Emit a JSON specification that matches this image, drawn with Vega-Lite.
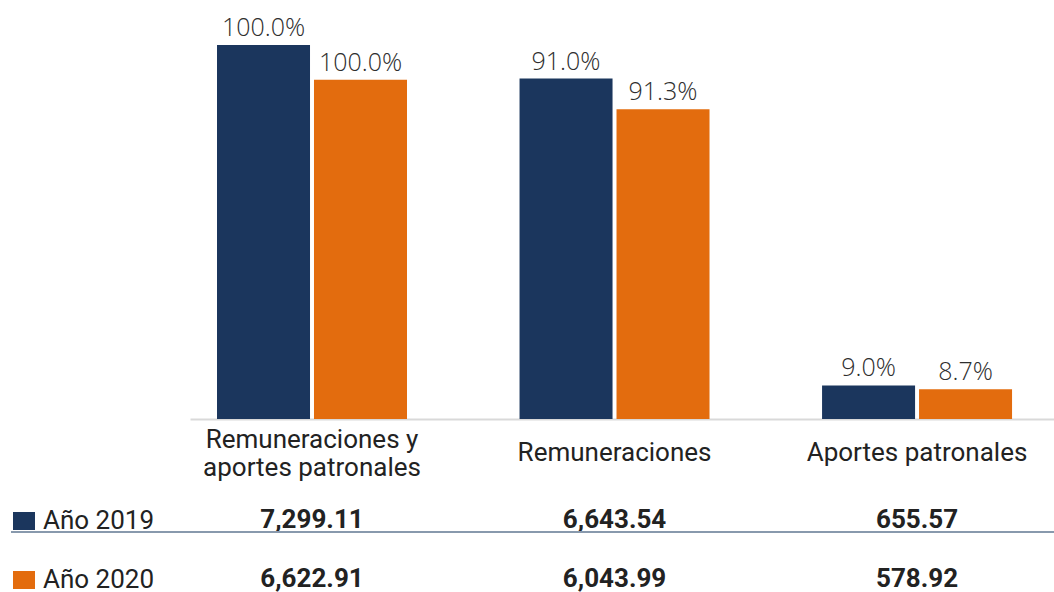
{
  "$schema": "https://vega.github.io/schema/vega-lite/v6.json",
  "width": 1054,
  "height": 592,
  "padding": 0,
  "autosize": {"type": "none"},
  "background": "#ffffff",
  "config": {"view": {"stroke": null}},
  "data": {"values": [
    {"cat": "Remuneraciones y aportes patronales", "year": "Año 2019", "value": 7299.11, "pct": 1.0},
    {"cat": "Remuneraciones y aportes patronales", "year": "Año 2020", "value": 6622.91, "pct": 1.0},
    {"cat": "Remuneraciones", "year": "Año 2019", "value": 6643.54, "pct": 0.910},
    {"cat": "Remuneraciones", "year": "Año 2020", "value": 6043.99, "pct": 0.913},
    {"cat": "Aportes patronales", "year": "Año 2019", "value": 655.57, "pct": 0.090},
    {"cat": "Aportes patronales", "year": "Año 2020", "value": 578.92, "pct": 0.087}
  ]},
  "layer": [
    {
      "encoding": {
        "x": {
          "field": "cat", "type": "nominal",
          "sort": ["Remuneraciones y aportes patronales", "Remuneraciones", "Aportes patronales"],
          "scale": {"paddingInner": 0.372, "paddingOuter": 0.428, "align": 0.838},
          "axis": {
            "orient": "bottom", "offset": -173, "title": null,
            "ticks": false, "tickSize": 0, "grid": false,
            "labelPadding": 33,
            "labelBaseline": {"condition": {"test": "datum.value == 'Remuneraciones y aportes patronales'", "value": "bottom"}, "value": "middle"},
            "labelAngle": 0,
            "labelFont": "Roboto", "labelFontSize": 26, "labelColor": "#222222",
            "labelLineHeight": 28, "labelLimit": 400,
            "labelExpr": "datum.value == 'Remuneraciones y aportes patronales' ? ['Remuneraciones y', 'aportes patronales'] : datum.value",
            "domain": true, "domainColor": "#d9d9d9", "domainWidth": 2, "domainDash": [0, 190, 864]
          }
        },
        "xOffset": {"field": "year", "type": "nominal", "scale": {"paddingInner": 0.041, "paddingOuter": 0}},
        "y": {"field": "value", "type": "quantitative", "scale": {"domain": [-3376, 8177], "nice": false}, "axis": null}
      },
      "layer": [
        {
          "mark": {"type": "bar"},
          "encoding": {
            "y2": {"datum": 0},
            "color": {
              "field": "year", "type": "nominal",
              "scale": {"domain": ["Año 2019", "Año 2020"], "range": ["#1b365d", "#e36c0e"]},
              "legend": {
                "orient": "none", "legendX": 11, "legendY": 508, "direction": "vertical",
                "title": null, "padding": 0,
                "symbolType": "M-1,-0.818L1,-0.818L1,0.818L-1,0.818Z",
                "symbolSize": 484, "symbolStrokeWidth": 0, "symbolOpacity": 1,
                "labelFont": "Roboto", "labelFontSize": 26, "labelColor": "#222222",
                "labelOffset": 6, "rowPadding": 33
              }
            }
          }
        },
        {
          "mark": {"type": "text", "font": "Open Sans", "fontWeight": 300, "fontSize": 25, "color": "#2e2e2e", "baseline": "alphabetic", "dy": -9},
          "encoding": {
            "text": {"field": "pct", "type": "quantitative", "format": ".1%"}
          }
        }
      ]
    },
    {
      "layer": [
        {
          "mark": {"type": "text", "font": "Roboto", "fontWeight": "bold", "fontSize": 26, "color": "#222222", "baseline": "middle"},
          "encoding": {
            "x": {
              "field": "cat", "type": "nominal",
              "sort": ["Remuneraciones y aportes patronales", "Remuneraciones", "Aportes patronales"],
              "scale": {"paddingInner": 0.372, "paddingOuter": 0.428, "align": 0.838},
              "axis": {
                "orient": "bottom", "offset": -173, "title": null,
                "ticks": false, "tickSize": 0, "grid": false,
                "labelPadding": 33,
                "labelBaseline": {"condition": {"test": "datum.value == 'Remuneraciones y aportes patronales'", "value": "bottom"}, "value": "middle"},
                "labelAngle": 0,
                "labelFont": "Roboto", "labelFontSize": 26, "labelColor": "#222222",
                "labelLineHeight": 28, "labelLimit": 400,
                "labelExpr": "datum.value == 'Remuneraciones y aportes patronales' ? ['Remuneraciones y', 'aportes patronales'] : datum.value",
                "domain": true, "domainColor": "#d9d9d9", "domainWidth": 2, "domainDash": [0, 190, 864]
              }
            },
            "y": {"field": "year", "type": "nominal", "scale": {"type": "point", "domain": ["Año 2019", "Año 2020"], "range": [520, 579], "padding": 0}, "axis": null},
            "text": {"field": "value", "type": "quantitative", "format": ",.2f"}
          }
        },
        {
          "data": {"values": [{"year": "Año 2019"}]},
          "mark": {"type": "rule", "color": "#8899ad", "strokeWidth": 2, "strokeDash": [1043, 11], "yOffset": 12},
          "encoding": {
            "y": {"field": "year", "type": "nominal", "axis": null}
          }
        }
      ]
    }
  ],
  "resolve": {"scale": {"y": "independent"}}
}
